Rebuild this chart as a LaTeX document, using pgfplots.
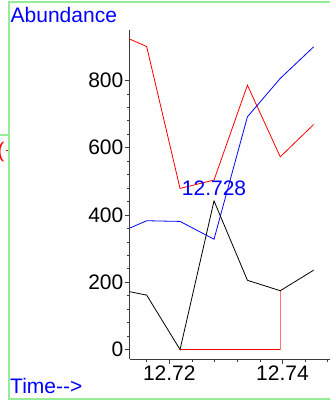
\documentclass[border=0pt]{standalone}
\usepackage{fontspec}
\setmainfont{Liberation Sans}
\usepackage{pgfplots}
\pgfplotsset{compat=1.18}
\definecolor{framegreen}{RGB}{150,235,150}
\definecolor{axgray}{RGB}{60,60,60}
\begin{document}
\fontsize{21}{25}\selectfont
\begin{tikzpicture}
\useasboundingbox (0pt,0pt) rectangle (330pt,402pt);
\clip (0pt,0pt) rectangle (330pt,402pt);
\draw[framegreen, line width=1.3pt] (345pt,400pt) -- (9pt,400pt) -- (9pt,3pt) -- (345pt,3pt);
\draw[framegreen, line width=1.3pt] (0pt,267pt) -- (9pt,267pt);
\node[red, anchor=east, inner sep=0pt] at (4.5pt,250pt) {(};
\draw[red, line width=1pt] (5.5pt,251pt) -- (7.5pt,251pt);
\node[blue, anchor=base west, inner sep=0pt] at (10.5pt,379.5pt) {Abundance};
\node[blue, anchor=base west, inner sep=0pt] at (10pt,8.7pt) {Time{-}{-}>};
\begin{axis}[
  at={(129.5pt,43pt)}, anchor=south west,
  scale only axis, width=200.5pt, height=329pt,
  xmin=12.71297, xmax=12.74839, ymin=-28, ymax=950,
  axis x line*=bottom, axis y line*=left,
  axis line style={-, axgray, line width=0.9pt},
  tick align=outside,
  major tick length=5pt, minor tick length=3pt,
  tick style={axgray, line width=0.7pt},
  xtick={12.72,12.74},
  minor xtick={12.716,12.724,12.728,12.732,12.736,12.744,12.748},
  ytick={0,200,400,600,800},
  minor y tick num=4,
  scaled x ticks=false,
  /pgf/number format/assume math mode=true,
  xticklabel={\pgfmathprintnumber[fixed,precision=2,fixed zerofill]{\tick}},
  yticklabel={\pgfmathprintnumber[fixed,precision=0]{\tick}},
  tick label style={font=\fontsize{21}{25}\selectfont, black},
  yticklabel style={inner sep=1pt},
  xticklabel style={inner sep=2pt},
]
\addplot[red, line width=0.8pt] coordinates {(12.7130,923) (12.7160,901) (12.7219,479) (12.7279,504) (12.7338,786) (12.7396,573) (12.7455,669)};
\addplot[blue, line width=0.8pt] coordinates {(12.7130,361) (12.7160,383) (12.7219,381) (12.7279,328) (12.7338,692) (12.7396,806) (12.7455,900)};
\addplot[red, line width=0.8pt] coordinates {(12.7219,0) (12.7396,0)};
\addplot[red!55, line width=0.9pt] coordinates {(12.7396,0) (12.7396,175)};
\addplot[black, line width=0.8pt] coordinates {(12.7130,172) (12.7160,162) (12.7219,0) (12.7279,442) (12.7338,206) (12.7396,175) (12.7455,236)};
\node[blue, anchor=base, inner sep=0pt, font=\fontsize{21}{25}\selectfont] at (axis cs:12.7279,442) [yshift=5pt] {12.728};
\end{axis}
\end{tikzpicture}
\end{document}
